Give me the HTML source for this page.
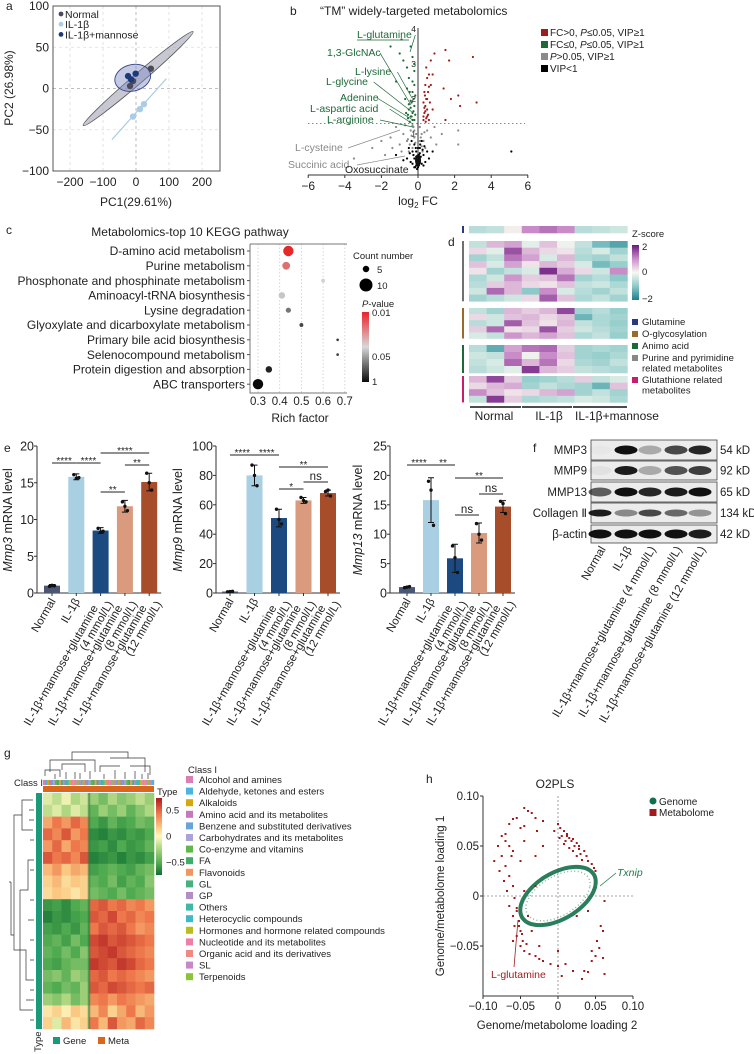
<!DOCTYPE html>
<html><head><meta charset="utf-8">
<style>
html,body{margin:0;padding:0;background:#fff;}
svg{display:block;}
text{font-family:"Liberation Sans","DejaVu Sans",sans-serif;fill:#222;}
</style></head>
<body>
<svg id="fig" width="754" height="1054" viewBox="0 0 754 1054" xmlns="http://www.w3.org/2000/svg">
<rect x="0" y="0" width="754" height="1054" fill="#fff"/>
<text x="6" y="10" font-size="12">a</text>
<text x="290" y="15" font-size="12">b</text>
<text x="6" y="234" font-size="12">c</text>
<text x="448" y="246" font-size="12">d</text>
<text x="4" y="452" font-size="12">e</text>
<text x="533" y="452" font-size="12">f</text>
<text x="4" y="757" font-size="12">g</text>
<text x="426" y="783" font-size="12">h</text>

<text x="136" y="206" font-size="12" text-anchor="middle">PC1(29.61%)</text>
<text transform="translate(13,88) rotate(-90)" font-size="12" text-anchor="middle">PC2 (26.98%)</text>

<text x="320" y="15" font-size="12">“TM” widely-targeted metabolomics</text>
<text x="418" y="205" font-size="12" text-anchor="middle">log<tspan font-size="8" dy="3">2</tspan><tspan dy="-3"> FC</tspan></text>

<text x="190" y="236" font-size="12" text-anchor="middle">Metabolomics-top 10 KEGG pathway</text>
<text x="300" y="422" font-size="12" text-anchor="middle">Rich factor</text>
<text x="353" y="259" font-size="9.5">Count number</text>
<text x="362" y="307" font-size="9.5"><tspan font-style="italic">P</tspan>-value</text>

<text x="632" y="237" font-size="9.5">Z-score</text>
<text x="494" y="420" font-size="12" text-anchor="middle">Normal</text>
<text x="549" y="420" font-size="12" text-anchor="middle">IL-1β</text>
<text x="575" y="420" font-size="12">IL-1β+mannose</text>

<text x="14" y="786" font-size="9.5">Class I</text>
<text x="157" y="795" font-size="9.5">Type</text>
<text x="188" y="773" font-size="9.5">Class I</text>
<text transform="translate(41,1052) rotate(-90)" font-size="9.5">Type</text>

<text x="555" y="788" font-size="12" text-anchor="middle">O2PLS</text>
<text x="557" y="1029" font-size="11.5" text-anchor="middle">Genome/metabolome loading 2</text>
<text transform="translate(444,896) rotate(-90)" font-size="11.5" text-anchor="middle">Genome/metabolome loading 1</text>
</svg>

<script>
const NS='http://www.w3.org/2000/svg';
const svg=document.getElementById('fig');
function mk(tag,attrs,parent){const e=document.createElementNS(NS,tag);for(const k in attrs)e.setAttribute(k,attrs[k]);(parent||svg).appendChild(e);return e;}
function txt(x,y,s,size,anchor,fill){const e=mk('text',{x:x,y:y,'font-size':size,'text-anchor':anchor||'start'});if(fill)e.setAttribute('style','fill:'+fill);e.textContent=s;return e;}

/* ================= PANEL A DATA ================= */
const pcaNormal=[[45,24],[-9,9],[-18,3]];
const pcaIL=[[24,-19],[12,-25],[-9,-34]];
const pcaMannose=[[-24,15],[-15,11],[-1,18]];
const pcaXTicks=[-200,-100,0,100,200];
const pcaYTicks=[-100,-50,0,50,100];
const pcaNormalEllipseEnds=[[-160,-45],[173,69]];
const pcaMannoseEllipse=[-10,13,55,16];
const pcaILLineEnds=[[-73,-62],[92,12]];

/* ================= PANEL B DATA ================= */
const volRedX=[0.3,0.35,0.4,0.45,0.5,0.3,0.55,0.4,0.5,0.6,0.45,0.7,0.9,1.5,1.7,3.0,2.2,1.8,3.2,2.3,1.4,0.8,0.6,1.5,0.35,0.5,0.3,0.45,0.7,0.65,0.55,0.4,0.8,0.35,0.5,0.42,0.38,0.6];
const volRedY=[1.4,1.6,1.8,2.0,1.5,1.9,2.2,2.4,2.6,2.7,2.9,3.1,3.3,3.4,3.1,3.2,2.1,2.0,1.9,1.8,2.3,1.7,1.4,1.4,2.2,1.7,1.5,1.45,2.4,1.9,1.55,1.65,2.7,1.75,2.0,1.35,2.1,2.35];
const volGreenX=[-0.2,-0.3,-0.4,-0.5,-0.35,-0.25,-0.45,-0.6,-0.3,-0.2,-0.5,-0.8,-1.0,-1.5,-0.9,-0.4,-0.3,-0.7,-0.2,-0.55,-0.15,-0.4,-0.65,-0.3,-0.2,-0.6,-1.2,-0.45,-0.25,-0.35,-0.5,-0.15,-0.3,-0.4,-0.2,-0.55];
const volGreenY=[1.4,1.6,1.5,1.7,1.9,2.0,2.2,2.3,2.5,2.8,2.6,3.1,3.3,3.5,3.7,3.5,3.2,2.0,1.8,1.45,1.55,1.75,1.6,2.2,3.0,2.9,2.5,1.35,1.65,1.5,1.85,2.1,1.4,1.95,2.4,1.55];
const volGrayX=[-0.2,-0.4,-0.6,-0.8,-1.0,-1.5,-2.0,-2.5,-1.2,0.2,0.3,0.5,0.7,1.0,1.3,2.2,2.2,-0.3,-0.5,0.1,0.4,-0.9,-1.8,-3.5,-0.15,0.25,-0.7,0.9,-1.4,-0.25,-0.1,0.15,-0.35,-0.45,0.35,-0.55,-0.2,0.2,-0.3,0.1];
const volGrayY=[0.9,1.1,0.8,1.0,0.7,0.9,0.8,0.6,1.2,1.0,0.8,1.1,0.9,0.7,1.0,1.1,0.7,0.6,0.5,1.2,0.6,0.5,0.4,0.3,0.75,0.5,1.25,1.2,0.6,1.2,1.0,0.9,0.95,0.7,1.05,0.85,1.1,0.65,1.25,0.8];
const volBlackX=[-0.1,0,0.1,-0.2,0.2,-0.3,0.3,0,-0.1,0.1,-0.4,0.4,-0.5,0.5,-0.2,0.2,-0.6,0.6,5.1,-1.2,-0.05,0.05,-0.15,0.15,0,-0.3,0.3,-0.8,0.8,-0.35,-0.05,0.05,-0.1,0.1,-0.25,0.25,0,-0.45,0.35,-0.2,0.12,-0.12];
const volBlackY=[0.1,0.05,0.2,0.3,0.15,0.5,0.4,0.3,0.5,0.6,0.2,0.2,0.6,0.5,0.7,0.8,0.3,0.3,0.5,0.4,0.2,0.4,0.05,0.35,0.6,0.15,0.1,0.25,0.5,0.8,0.0,0.1,0.35,0.45,0.4,0.55,0.15,0.45,0.65,0.05,0.7,0.6];
const volXTicks=[-6,-4,-2,0,2,4,6];
const volYTicks=[1,2,3,4];
const volThreshold=[1.3];

/* ================= PANEL C DATA ================= */
const keggPathways=['D-amino acid metabolism','Purine metabolism','Phosphonate and phosphinate metabolism','Aminoacyl-tRNA biosynthesis','Lysine degradation','Glyoxylate and dicarboxylate metabolism','Primary bile acid biosynthesis','Selenocompound metabolism','Protein digestion and absorption','ABC transporters'];
const keggRich=[0.44,0.43,0.60,0.41,0.44,0.50,0.667,0.667,0.35,0.30];
const keggCount=[8,6,3,5,4,3,2,2,5,8];
const keggP=[0.01,0.02,0.05,0.06,0.2,0.4,0.5,0.5,0.7,1.0];
const keggXTicks=[0.3,0.4,0.5,0.6,0.7];

/* ================= PANEL D DATA ================= */
const zTop=[[-0.6,-0.5,0.1,1.0,1.2,1.0,-0.6,-0.5,-0.4]];
const zBlock1=[[-0.5,0.6,0.8,-0.2,0.5,-0.1,-0.5,-1.2,-1.5],[0.3,-0.2,1.5,0.6,0.3,0.2,-0.6,-0.3,-0.8],[-0.8,-0.5,1.2,0.8,-0.3,0.6,-0.7,-0.8,-0.5],[0.5,-0.3,0.8,0.2,0.6,0.4,-0.3,-1.2,-0.9],[0.2,-0.8,-0.5,-0.3,1.8,0.7,0.3,-0.4,1.0],[-0.7,-0.4,0.9,0.4,0.5,1.2,-0.8,-0.6,-1.0],[-0.6,0.4,0.6,0.3,0.2,0.5,-0.5,-0.4,-0.7],[-0.4,1.3,0.6,-1.0,1.0,-0.3,-0.6,-0.8,-0.5],[-0.8,-0.6,-0.4,0.3,1.4,0.5,-0.7,-0.5,-0.8]];
const zBlock2=[[-0.5,-0.8,0.6,0.4,0.6,1.6,-0.8,-0.6,-0.9],[0.3,-0.4,0.5,0.6,0.3,0.5,-1.3,-0.7,-0.8],[-0.6,-0.4,1.4,0.5,0.2,0.6,-0.5,-0.7,-0.9],[0.4,1.3,0.2,0.3,1.5,0.4,-0.4,-0.6,-0.8],[-0.3,-0.5,0.9,0.6,0.8,0.5,-0.7,-0.5,-0.9]];
const zBlock3=[[-0.6,-1.4,0.8,1.2,1.3,0.4,-0.8,-0.7,-0.8],[-0.4,-0.5,1.0,-0.1,1.0,0.5,-0.8,-0.9,-0.7],[-0.5,-0.3,1.3,0.6,1.2,0.3,-0.7,-0.8,-0.5],[-0.6,-0.4,-0.2,1.7,0.6,0.4,-0.5,-0.6,-0.7]];
const zBlock4=[[0.6,1.6,0.4,-0.9,-0.8,-0.6,0.4,-0.5,-0.3],[0.3,0.6,0.7,-0.8,-0.5,-0.7,-0.8,-1.3,0.5],[1.0,0.5,0.2,0.3,0.6,0.8,-0.8,-0.5,-0.8],[-0.5,1.7,0.4,-0.7,-0.6,-0.5,-0.3,-0.4,-0.7]];
const zCategories=['Glutamine','O-glycosylation','Animo acid','Purine and pyrimidine|related metabolites','Glutathione related|metabolites'];

/* ================= PANEL E DATA ================= */
const eGroups=['Normal','IL-1β','IL-1β+mannose+glutamine|(4 mmol/L)','IL-1β+mannose+glutamine|(8 mmol/L)','IL-1β+mannose+glutamine|(12 mmol/L)'];
const mmp3Mean=[1.0,15.8,8.5,11.8,15.1];
const mmp3Err=[0.15,0.4,0.4,0.8,1.2];
const mmp3Reps=[[0.9,1.05,1.0],[16.1,15.6,15.7],[8.8,8.3,8.4],[12.4,11.8,11.2],[16.3,15.0,14.0]];
const mmp9Mean=[1.0,80,51,63,68];
const mmp9Err=[0.3,7,6,2,2];
const mmp9Reps=[[0.8,1.0,1.1],[87,80,73],[57,50,47],[65,63,62],[69,70,66]];
const mmp13Mean=[1.0,15.8,5.9,10.2,14.7];
const mmp13Err=[0.1,3.8,2.4,1.7,1.0];
const mmp13Reps=[[0.9,1.0,1.1],[19,17.5,11.5],[8.0,6.0,3.5],[11.8,10.0,9.0],[15.6,15.2,13.5]];
const mmp3Sig=[[0,1,'****',463],[1,2,'****',463],[2,4,'****',453],[3,4,'**',465],[2,3,'**',492]];
const mmp9Sig=[[0,1,'****',455],[1,2,'****',455],[2,4,'**',467],[3,4,'ns',482],[2,3,'*',489]];
const mmp13Sig=[[0,1,'****',465],[1,2,'**',465],[2,4,'**',478],[3,4,'ns',494],[2,3,'ns',515]];
const mmp3Ticks=[0,5,10,15,20];
const mmp9Ticks=[0,20,40,60,80,100];
const mmp13Ticks=[0,5,10,15,20,25];

/* ================= PANEL F DATA ================= */
const blotProteins=['MMP3','MMP9','MMP13','Collagen Ⅱ','β-actin'];
const blotSizes=['54 kD','92 kD','65 kD','134 kD','42 kD'];
const blotMMP3=[0.02,1.0,0.3,0.75,0.9];
const blotMMP9=[0.05,0.95,0.3,0.7,0.8];
const blotMMP13=[0.65,1.0,0.9,0.95,1.0];
const blotCollagen=[0.95,0.45,0.75,0.6,0.4];
const blotActin=[1,1,1,1,0.95];

/* ================= PANEL G DATA ================= */
const gMatrix=[
[-0.1,-0.2,-0.05,-0.25,-0.15,-0.3,-0.4,-0.25,-0.35,-0.3,-0.2,-0.3],
[-0.2,-0.1,-0.25,-0.1,-0.2,-0.45,-0.3,-0.4,-0.3,-0.45,-0.35,-0.25],
[0.35,0.5,0.4,0.55,0.45,-0.5,-0.6,-0.45,-0.55,-0.5,-0.4,-0.45],
[0.55,0.45,0.6,0.4,0.5,-0.65,-0.7,-0.6,-0.65,-0.55,-0.6,-0.5],
[0.4,0.55,0.35,0.5,0.45,-0.6,-0.55,-0.65,-0.5,-0.6,-0.55,-0.45],
[0.6,0.5,0.55,0.45,0.6,-0.7,-0.65,-0.6,-0.7,-0.6,-0.65,-0.55],
[0.3,0.4,0.25,0.35,0.3,-0.55,-0.5,-0.45,-0.5,-0.55,-0.45,-0.4],
[0.2,0.3,0.15,0.25,0.2,-0.45,-0.5,-0.4,-0.55,-0.45,-0.5,-0.35],
[0.15,0.25,0.2,0.1,0.2,-0.4,-0.45,-0.5,-0.4,-0.5,-0.45,-0.4],
[-0.6,-0.55,-0.65,-0.5,-0.45,0.55,0.6,0.5,0.55,0.45,0.5,0.4],
[-0.7,-0.6,-0.65,-0.55,-0.5,0.6,0.55,0.65,0.5,0.55,0.45,0.5],
[-0.55,-0.6,-0.5,-0.6,-0.45,0.5,0.6,0.55,0.6,0.5,0.4,0.45],
[-0.5,-0.45,-0.55,-0.4,-0.5,0.65,0.7,0.6,0.65,0.6,0.55,0.5],
[-0.45,-0.5,-0.4,-0.5,-0.35,0.6,0.65,0.7,0.6,0.55,0.5,0.45],
[-0.5,-0.55,-0.45,-0.4,-0.4,0.7,0.65,0.6,0.7,0.65,0.55,0.5],
[-0.4,-0.35,-0.45,-0.3,-0.35,0.55,0.6,0.5,0.55,0.5,0.45,0.4],
[-0.45,-0.5,-0.4,-0.45,-0.3,0.6,0.55,0.65,0.6,0.55,0.5,0.55],
[-0.3,-0.35,-0.25,-0.4,-0.3,0.45,0.5,0.4,0.5,0.45,0.4,0.35],
[0.1,0.2,0.05,0.25,0.15,0.3,0.45,0.2,0.35,0.5,0.3,0.4],
[0.2,-0.1,0.3,0.1,0.2,0.5,0.3,0.6,0.4,0.35,0.55,0.45]];
const gClasses=['Alcohol and amines','Aldehyde, ketones and esters','Alkaloids','Amino acid and its metabolites','Benzene and substituted derivatives','Carbohydrates and its metabolites','Co-enzyme and vitamins','FA','Flavonoids','GL','GP','Others','Heterocyclic compounds','Hormones and hormone related compounds','Nucleotide and its metabolites','Organic acid and its derivatives','SL','Terpenoids'];
const gClassColors=['#d97fb4','#4db3e0','#d4a90c','#c678b8','#6aa3d8','#a9a3d9','#5fb84a','#3fae6a','#f2955e','#46b07e','#b48cc8','#40b8a8','#40b8c8','#b6bf1c','#ee7ea8','#f08a80','#c888c8','#8ac43a'];
const gTicks=[-0.5,0,0.5];

/* ================= PANEL H DATA ================= */
const metaX=[-0.045,-0.04,-0.035,-0.03,-0.055,-0.06,-0.065,-0.05,-0.045,-0.075,-0.07,-0.08,-0.065,-0.06,-0.075,-0.085,-0.07,-0.078,-0.065,-0.072,-0.06,-0.068,-0.058,-0.065,-0.055,-0.06,-0.052,-0.058,-0.05,-0.055,-0.047,-0.05,-0.042,-0.045,-0.038,-0.03,-0.025,-0.02,-0.01,0.0,0.01,0.005,0.02,0.032,0.035,0.04,0.045,0.045,0.05,0.055,0.06,0.062,0.052,0.057,0.06,0.0,0.003,0.008,0.012,0.005,0.015,0.018,0.01,0.022,0.025,0.028,0.03,0.035,0.038,0.04,0.045,0.048,0.05,0.02,0.015,0.002,-0.005,0.025,0.032,-0.03,-0.045,-0.02,-0.03,-0.045,-0.04,-0.035,0.025,0.04,0.062,-0.02,-0.028,-0.05,-0.06,-0.025,0.0,-0.055,-0.052,-0.048,0.012,0.02,0.008,0.028,-0.062,-0.07];
const metaY=[0.088,0.085,0.083,0.078,0.078,0.077,0.072,0.068,0.07,0.06,0.055,0.05,0.05,0.045,0.04,0.035,0.03,0.025,0.02,0.015,0.01,0.005,-0.002,-0.01,-0.012,-0.02,-0.025,-0.03,-0.035,-0.04,-0.045,-0.05,-0.048,-0.055,-0.058,-0.06,-0.063,-0.065,-0.068,-0.07,-0.068,-0.08,-0.075,-0.083,-0.075,-0.076,-0.065,-0.055,-0.06,-0.052,-0.062,-0.078,-0.045,-0.03,-0.035,0.072,0.068,0.065,0.062,0.06,0.058,0.055,0.055,0.05,0.053,0.047,0.042,0.045,0.04,0.035,0.032,0.028,0.025,0.045,0.048,0.058,0.065,0.04,0.036,0.04,0.055,0.05,0.01,0.005,-0.02,-0.035,-0.02,-0.015,-0.005,0.075,0.065,0.035,-0.045,-0.05,-0.055,-0.015,-0.03,-0.038,0.06,0.057,0.052,0.05,0.04,0.062];
const genomeU=[0.05,0.011];
const genomeV=[0.006,0.027];
const o2Ticks=[-0.10,-0.05,0,0.05,0.10];
const o2TickLabels=['−0.10','−0.05','0','0.05','0.10'];

function minus(v){return String(v).replace('-','−');}

/* ---- Panel A ---- */
(function(){
const ax=v=>136+v*0.33, ay=v=>88.5-v*0.825;
const g=mk('g',{});


pcaXTicks.forEach(t=>{
 const l=mk('line',{x1:ax(t),x2:ax(t),y1:6,y2:171,stroke:t===0?'#aaa':'#ddd','stroke-dasharray':'3,3','stroke-width':0.8},g);
 
 
 const tl=txt(ax(t),186,minus(t),12,'middle');g.appendChild(tl);
 
 
});
pcaYTicks.forEach(t=>{
 const l=mk('line',{x1:53,x2:220,y1:ay(t),y2:ay(t),stroke:t===0?'#aaa':'#ddd','stroke-dasharray':'3,3','stroke-width':0.8},g);
 
 
 const tl=txt(49,ay(t)+4,minus(t),12,'end');g.appendChild(tl);
 
 
});
const box=mk('rect',{x:53,y:6,width:167,height:165,fill:'none',stroke:'#555','stroke-width':1},g);


const [p1,p2]=pcaNormalEllipseEnds;
const x1=ax(p1[0]),y1=ay(p1[1]),x2=ax(p2[0]),y2=ay(p2[1]);
const cx=(x1+x2)/2,cy=(y1+y2)/2,len=Math.hypot(x2-x1,y2-y1)/2,ang=Math.atan2(y2-y1,x2-x1)*180/Math.PI;
const e1=mk('ellipse',{cx:cx,cy:cy,rx:len,ry:5,transform:`rotate(${ang} ${cx} ${cy})`,fill:'#9a9aae','fill-opacity':0.55,stroke:'#555','stroke-width':0.8},g);


const [mcx,mcy,mrx,mry]=pcaMannoseEllipse;
const e2=mk('ellipse',{cx:ax(mcx),cy:ay(mcy),rx:mrx*0.33,ry:mry*0.825,transform:`rotate(-15 ${ax(mcx)} ${ay(mcy)})`,fill:'#7f88c0','fill-opacity':0.45,stroke:'#33448a','stroke-width':0.9},g);


const [q1,q2]=pcaILLineEnds;
const l3=mk('line',{x1:ax(q1[0]),y1:ay(q1[1]),x2:ax(q2[0]),y2:ay(q2[1]),stroke:'#a6cbe3','stroke-width':1.2},g);


pcaNormal.forEach(p=>{const c=mk('circle',{cx:ax(p[0]),cy:ay(p[1]),r:3.2,fill:'#4a4a58'},g);
 
 });
pcaIL.forEach(p=>{const c=mk('circle',{cx:ax(p[0]),cy:ay(p[1]),r:3.2,fill:'#a9cde6'},g);
 
 });
pcaMannose.forEach(p=>{const c=mk('circle',{cx:ax(p[0]),cy:ay(p[1]),r:3.2,fill:'#1c3a7a'},g);
 
 });
const leg=[['Normal','#4a4a58'],['IL-1β','#a9cde6'],['IL-1β+mannose','#1c3a7a']];
leg.forEach((L,i)=>{
 const c=mk('circle',{cx:61,cy:14+i*10.2,r:2.4,fill:L[1]},g);
 
 
 const t=txt(65,18+i*10.2,L[0],10.5);g.appendChild(t);
 
 
});
})();

/* ---- Panel B ---- */
(function(){
const vx=v=>418+v*18.3, vy=v=>169-v*35;
const g=mk('g',{});


const th=mk('line',{x1:308,x2:525,y1:vy(volThreshold[0]),y2:vy(volThreshold[0]),stroke:'#888','stroke-dasharray':'1.5,2.5','stroke-width':1},g);


const xa=mk('line',{x1:308,x2:528,y1:175,y2:175,stroke:'#333','stroke-width':1},g);


const ya=mk('line',{x1:418,x2:418,y1:28,y2:175,stroke:'#333','stroke-width':1},g);


volXTicks.forEach(t=>{
 const l=mk('line',{x1:vx(t),x2:vx(t),y1:175,y2:178,stroke:'#333'},g);
 
 
 const tl=txt(vx(t),190,minus(t),12,'middle');g.appendChild(tl);
 
 
});
volYTicks.forEach(t=>{
 const tl=txt(416,vy(t)+3,String(t),8.5,'end');g.appendChild(tl);
 
 
});
function pts(X,Y,col,name){X.forEach((x,i)=>{const c=mk('circle',{cx:vx(x),cy:vy(Y[i]),r:1.1,fill:col},g);
 
 });}
pts(volGrayX,volGrayY,'#8a8a8a','volcano-point-ns');
pts(volBlackX,volBlackY,'#000','volcano-point-low-vip');
pts(volGreenX,volGreenY,'#1d6a38','volcano-point-down');
pts(volRedX,volRedY,'#a01c1c','volcano-point-up');
const core=mk('ellipse',{cx:vx(0),cy:vy(0.25),rx:3,ry:6,fill:'#111'},g);


const labels=[['L-glutamine',357,38,'#1d6a38',410,52],['1,3-GlcNAc',327,56,'#1d6a38',411,105],['L-lysine',355,75,'#1d6a38',412,98],['L-glycine',326,85,'#1d6a38',412,112],['Adenine',340,101,'#1d6a38',413,120],['L-aspartic acid',310,112,'#1d6a38',413,124],['L-arginine',327,123,'#1d6a38',413,127],['L-cysteine',295,151,'#888',400,130],['Succinic acid',288,168,'#888',405,156],['Oxosuccinate',345,173,'#222',0,0]];
labels.forEach(L=>{
 const t=txt(L[1],L[2],L[0],10.5,'start',L[3]);g.appendChild(t);
 
 
 if(L[4]){const w=L[0].length*5.3;
  const ln=mk('line',{x1:L[1]+w,y1:L[2]-3,x2:L[4],y2:L[5],stroke:L[3],'stroke-width':0.7},g);
  
  }
});
const ul=mk('line',{x1:357,x2:409,y1:40,y2:40,stroke:'#1d6a38','stroke-width':0.8},g);


const leg=[['#a01c1c','FC>0, ','P','≤0.05, VIP≥1'],['#1d6a38','FC≤0, ','P','≤0.05, VIP≥1'],['#8a8a8a','','P','>0.05, VIP≥1'],['#000','VIP<1','','']];
leg.forEach((L,i)=>{
 const r=mk('rect',{x:541,y:29+i*12,width:7,height:7,fill:L[0]},g);
 
 
 const t=mk('text',{x:550,y:36+i*12,'font-size':10},g);
 
 
 t.appendChild(document.createTextNode(L[1]));
 if(L[2]){const ts=mk('tspan',{'font-style':'italic'},t);ts.textContent=L[2];}
 t.appendChild(document.createTextNode(L[3]));
});
})();

/* ---- Panel C ---- */
(function(){
const cx=v=>258+(v-0.3)*217, cy=i=>251+i*14.8;
const g=mk('g',{});


keggXTicks.forEach(t=>{
 const l=mk('line',{x1:cx(t),x2:cx(t),y1:244,y2:393,stroke:'#ccc','stroke-dasharray':'1.5,2','stroke-width':0.8},g);
 
 
 const tl=txt(cx(t),405,String(t),11.5,'middle');g.appendChild(tl);
 
 
});
const fr=mk('path',{d:'M250,244 H347 M250,244 V393 H347',fill:'none',stroke:'#777','stroke-width':1},g);


function pcol(p){
 const lp=Math.log10(p);
 if(lp>=Math.log10(0.05)){const f=lp/Math.log10(0.05);const v=Math.round(10+f*200);return `rgb(${v},${v},${v})`;}
 const f=(lp-Math.log10(0.05))/(Math.log10(0.01)-Math.log10(0.05));
 return `rgb(${Math.round(210+f*20)},${Math.round(210-f*170)},${Math.round(210-f*170)})`;
}
keggPathways.forEach((p,i)=>{
 const tk=mk('line',{x1:247,x2:250,y1:cy(i),y2:cy(i),stroke:'#555'},g);
 
 
 const t=txt(245,cy(i)+4.2,p,12,'end');g.appendChild(t);
 
 
 const c=mk('circle',{cx:cx(keggRich[i]),cy:cy(i),r:0.65*keggCount[i],fill:pcol(keggP[i])},g);
 
 
});
[[5,269],[10,285]].forEach(L=>{
 const c=mk('circle',{cx:366,cy:L[1],r:0.65*L[0],fill:'#000'},g);
 
 
 const t=txt(377,L[1]+4,String(L[0]),9.5);g.appendChild(t);
 
 
});
const defs=mk('defs',{});
const lg=mk('linearGradient',{id:'pgrad',x1:0,y1:0,x2:0,y2:1},defs);
[['0','#e8232a'],['0.5','#d8d8d8'],['1','#0a0a0a']].forEach(s=>mk('stop',{offset:s[0],'stop-color':s[1]},lg));
const bar=mk('rect',{x:362,y:312,width:7,height:70,fill:'url(#pgrad)'},g);


[['0.01',316],['0.05',360],['1',385]].forEach(L=>{
 const t=txt(372,L[1],L[0],9.5);g.appendChild(t);
 
 
});
})();

/* ---- Panel D ---- */
(function(){
const g=mk('g',{});


function zc(v){
 const stops=[[-2,[31,127,143]],[-1,[140,202,201]],[0,[248,248,240]],[1,[201,140,200]],[2,[106,26,126]]];
 v=Math.max(-2,Math.min(2,v));
 for(let i=0;i<4;i++){const a=stops[i],b=stops[i+1];if(v<=b[0]){const f=(v-a[0])/(b[0]-a[0]);return 'rgb('+a[1].map((c,k)=>Math.round(c+f*(b[1][k]-c))).join(',')+')';}}
}
const blocks=[[zTop,226,'#2b3a7a',7],[zBlock1,241,'#707070',6.7],[zBlock2,308,'#9a6a2a',6.1],[zBlock3,345,'#1a6a3a',7],[zBlock4,376,'#c81e6e',6.6]];
const x0=469,cw=17.6;
blocks.forEach(B=>{
 const rh=B[3];
 B[0].forEach((row,r)=>row.forEach((v,c)=>{
  const cell=mk('rect',{x:x0+c*cw,y:B[1]+r*rh,width:cw+0.3,height:rh+0.3,fill:zc(v)},g);
  
  
 }));
 const sb=mk('rect',{x:462,y:B[1],width:2,height:B[0].length*rh,fill:B[2]},g);
 
 
});
[[470,521],[522,572],[573,627]].forEach(p=>{
 const l=mk('line',{x1:p[0],x2:p[1],y1:407,y2:407,stroke:'#111','stroke-width':1.5},g);
 
 
});
const defs=mk('defs',{});
const lg=mk('linearGradient',{id:'zgrad',x1:0,y1:0,x2:0,y2:1},defs);
[['0','#6a1a7e'],['0.25','#c98cc8'],['0.5','#f8f8f0'],['0.75','#8ccac9'],['1','#1f7f8f']].forEach(s=>mk('stop',{offset:s[0],'stop-color':s[1]},lg));
const bar=mk('rect',{x:632,y:245,width:7,height:55,fill:'url(#zgrad)'},g);


[['2',250],['0',275],['−2',302]].forEach(L=>{
 const t=txt(642,L[1],L[0],9.5);g.appendChild(t);
 
 
});
const cols=['#2b3a7a','#9a6a2a','#1a6a3a','#888','#c81e6e'];
let yy=319;
zCategories.forEach((c,i)=>{
 const r=mk('rect',{x:632,y:yy,width:6,height:6,fill:cols[i]},g);
 
 
 const parts=c.split('|');
 parts.forEach((p,k)=>{const t=txt(642,yy+6+k*10.5,p,9.5);g.appendChild(t);
  
  });
 yy+= parts.length>1? 22:12;
});
})();

/* ---- Panel E ---- */
const barColors=['#4b5574','#a9cfe3','#1c4a80','#d99a7e','#a84d2a'];
function drawBars(name,axisX,bx0,bstep,ymax,means,errs,reps,sigs,ticks,ytitle){
 const g=mk('g',{});
 
 
 const Y=v=>593-v/ymax*147, X=i=>bx0+i*bstep;
 const ya=mk('line',{x1:axisX,x2:axisX,y1:446,y2:593,stroke:'#333'},g);
 
 
 const xa=mk('line',{x1:axisX,x2:X(4)+12,y1:593,y2:593,stroke:'#333'},g);
 
 
 ticks.forEach(t=>{
  const l=mk('line',{x1:axisX-3,x2:axisX,y1:Y(t),y2:Y(t),stroke:'#333'},g);
  
  
  const tl=txt(axisX-3,Y(t)+4.5,String(t),12.5,'end');g.appendChild(tl);
  
  
 });
 means.forEach((m,i)=>{
  const b=mk('rect',{x:X(i)-8,y:Y(m),width:16,height:593-Y(m),fill:barColors[i]},g);
  
  
  const e=mk('path',{d:`M${X(i)},${Y(m-errs[i])} V${Y(m+errs[i])} M${X(i)-3},${Y(m+errs[i])} h6 M${X(i)-3},${Y(m-errs[i])} h6`,stroke:'#111','stroke-width':1,fill:'none'},g);
  
  
  reps[i].forEach((r,k)=>{const d=mk('circle',{cx:X(i)+(k-1)*2.5,cy:Y(r),r:1.7,fill:'#111'},g);
   
   });
  const tk=mk('line',{x1:X(i),x2:X(i),y1:593,y2:596,stroke:'#333'},g);
  
  
  const parts=eGroups[i].split('|');
  const t=mk('text',{transform:`translate(${X(i)+4},${601}) rotate(-60)`,'font-size':11.5,'text-anchor':'end'},g);
  
  
  if(parts.length===1){t.textContent=parts[0];}
  else{const a=mk('tspan',{x:-9,dy:-2},t);a.textContent=parts[0];const b2=mk('tspan',{x:2,dy:11},t);b2.textContent=parts[1];}
 });
 sigs.forEach(s=>{
  const l=mk('line',{x1:X(s[0]),x2:X(s[1]),y1:s[3],y2:s[3],stroke:'#222','stroke-width':0.9},g);
  
  
  const t=txt((X(s[0])+X(s[1]))/2,s[3]-(s[2].startsWith('*')?-1:2),s[2],s[2].startsWith('*')?10:11.5,'middle');g.appendChild(t);
  
  
 });
 const yt=mk('text',{transform:`translate(${ytitle[0]},520) rotate(-90)`,'font-size':12.5,'text-anchor':'middle'},g);
 
 
 const it=mk('tspan',{'font-style':'italic'},yt);it.textContent=ytitle[1];
 yt.appendChild(document.createTextNode(' mRNA level'));
}
drawBars('mmp3-bar-chart',37,52,24.3,20,mmp3Mean,mmp3Err,mmp3Reps,mmp3Sig,mmp3Ticks,[12,'Mmp3']);
drawBars('mmp9-bar-chart',216,230,24.5,100,mmp9Mean,mmp9Err,mmp9Reps,mmp9Sig,mmp9Ticks,[182,'Mmp9']);
drawBars('mmp13-bar-chart',390,407,24,25,mmp13Mean,mmp13Err,mmp13Reps,mmp13Sig,mmp13Ticks,[362,'Mmp13']);

/* ---- Panel F ---- */
(function(){
const g=mk('g',{});


const rows=[[blotMMP3,440,20],[blotMMP9,461,19],[blotMMP13,482,20],[blotCollagen,503,20],[blotActin,525,18]];
const lanes=[600,626,650,676,700];
rows.forEach((R,ri)=>{
 const bg=mk('rect',{x:591,y:R[1],width:126,height:R[2],fill:'#ececec',stroke:'#444','stroke-width':0.8},g);
 
 
 R[0].forEach((v,i)=>{
  const b=mk('ellipse',{cx:lanes[i],cy:R[1]+R[2]/2,rx:11.5,ry:ri===3?3.5:4.5,fill:'#111','fill-opacity':v},g);
  
  
 });
 const t=txt(587,R[1]+R[2]/2+4,blotProteins[ri],11.5,'end');g.appendChild(t);
 
 
 const s=txt(720,R[1]+R[2]/2+4,blotSizes[ri],11.5);g.appendChild(s);
 
 
});
eGroups.forEach((gname,i)=>{
 const t=mk('text',{transform:`translate(${lanes[i]+6},549) rotate(-60)`,'font-size':11.5,'text-anchor':'end'},g);
 t.textContent=gname.replace('|',' ');
 
 
});
})();

/* ---- Panel G ---- */
(function(){
const g=mk('g',{});


function gc(v){
 const stops=[[-0.8,[16,110,50]],[-0.5,[80,170,80]],[-0.25,[175,215,130]],[0,[252,248,190]],[0.25,[250,200,130]],[0.5,[238,120,75]],[0.8,[175,25,30]]];
 v=Math.max(-0.8,Math.min(0.8,v));
 for(let i=0;i<6;i++){const a=stops[i],b=stops[i+1];if(v<=b[0]){const f=(v-a[0])/(b[0]-a[0]);return 'rgb('+a[1].map((c,k)=>Math.round(c+f*(b[1][k]-c))).join(',')+')';}}
}
const x0=43,y0=793,W=111,H=236,nr=gMatrix.length,nc=gMatrix[0].length;
gMatrix.forEach((row,r)=>row.forEach((v,c)=>{
 const cell=mk('rect',{x:x0+c*W/nc,y:y0+r*H/nr,width:W/nc+0.3,height:H/nr+0.3,fill:gc(v)},g);
 
 
}));
const sep=mk('rect',{x:x0+5*W/nc-1.5,y:y0,width:2.5,height:H,fill:'#2d7a3a','fill-opacity':0.6},g);


for(let i=0;i<56;i++){
 const r=mk('rect',{x:x0+i*W/56,y:780,width:W/56+0.2,height:5,fill:gClassColors[i%gClassColors.length]},g);
 
 
}
const tb=mk('rect',{x:x0,y:786,width:W,height:6,fill:'#d9651e'},g);


const lb=mk('rect',{x:36,y:y0,width:6,height:H,fill:'#1a9a78'},g);


const dt=mk('path',{d:'M50,772 V760 H95 V772 M72,760 V752 H128 V758 M110,758 H145 V772 M100,772 V766 H120 M130,766 H150 V775 M45,776 V770 H60 V777 M62,770 V764 H85 V772 M75,779 V772 M80,779 V773 M90,779 V771 M104,779 V774 M115,779 V770 M125,779 V772 M135,779 V771 M142,779 V774 M148,779 V773 M55,779 V774 M66,779 V772',fill:'none',stroke:'#333','stroke-width':0.7},g);


const dl=mk('path',{d:'M33,800 H22 V830 H33 M22,815 H14 V950 H20 M20,890 V1010 H33 M20,890 H28 V860 H34 M28,920 H34 M20,950 H26 V980 H34 M26,1000 H34 M11,882 V935 H14 M11,882 H9 M30,840 H34 M30,870 H34 M30,900 H34 M30,940 H34 M30,960 H34 M30,990 H34 M30,1020 H34 M29,810 H34 M29,820 H34',fill:'none',stroke:'#333','stroke-width':0.7},g);


const defs=mk('defs',{});
const lg=mk('linearGradient',{id:'ggrad',x1:0,y1:0,x2:0,y2:1},defs);
[['0','#af191e'],['0.2','#ee784b'],['0.4','#fbd08a'],['0.5','#fcf8be'],['0.65','#afd782'],['0.85','#50aa50'],['1','#106e32']].forEach(s=>mk('stop',{offset:s[0],'stop-color':s[1]},lg));
const bar=mk('rect',{x:156,y:798,width:6,height:77,fill:'url(#ggrad)'},g);


gTicks.forEach(t=>{
 const tl=txt(166,836.5-t*52+3,minus(t),9.5);g.appendChild(tl);
 
 
});
gClasses.forEach((c,i)=>{
 const y=782+i*11.6;
 const r=mk('rect',{x:186,y:y-6,width:7,height:7,fill:gClassColors[i]},g);
 
 
 const t=txt(199,y+1,c,9.5);g.appendChild(t);
 
 
});
[['Gene','#1a9a78',53],['Meta','#d9651e',98]].forEach(L=>{
 const r=mk('rect',{x:L[2],y:1037,width:7,height:7,fill:L[1]},g);
 
 
 const t=txt(L[2]+10,1044,L[0],9.5);g.appendChild(t);
 
 
});
})();

/* ---- Panel H ---- */
(function(){
const hx=v=>558+v*750, hy=v=>896-v*1000;
const g=mk('g',{});


const ax=mk('path',{d:`M${hx(-0.1)},${hy(0.1)} V${hy(-0.1)} H${hx(0.1)}`,fill:'none',stroke:'#333'},g);


const z=mk('path',{d:`M${hx(0)},${hy(0.1)} V${hy(-0.1)} M${hx(-0.1)},${hy(0)} H${hx(0.1)}`,fill:'none',stroke:'#888','stroke-dasharray':'2,2','stroke-width':0.8},g);


o2Ticks.forEach((t,i)=>{
 const a=mk('line',{x1:hx(t),x2:hx(t),y1:hy(-0.1),y2:hy(-0.1)+3,stroke:'#333'},g);
 
 
 const tl=txt(hx(t),1010,o2TickLabels[i],11.5,'middle');g.appendChild(tl);
 
 
 if(t>-0.1){
 const b=mk('line',{x1:hx(-0.1)-3,x2:hx(-0.1),y1:hy(t),y2:hy(t),stroke:'#333'},g);
 
 
 const yl=txt(hx(-0.1)-4,hy(t)+4,o2TickLabels[i],11.5,'end');g.appendChild(yl);
 
 }
});
let d='';
for(let k=0;k<=72;k++){const t=k/72*2*Math.PI;const x=genomeU[0]*Math.cos(t)+genomeV[0]*Math.sin(t),y=genomeU[1]*Math.cos(t)+genomeV[1]*Math.sin(t);d+=(k?'L':'M')+hx(x).toFixed(1)+','+hy(y).toFixed(1);}
const ring=mk('path',{d:d,fill:'none',stroke:'#13704a','stroke-width':4,'stroke-opacity':0.9},g);


let d2='';
for(let k=0;k<=72;k++){const t=k/72*2*Math.PI;const x=0.85*(genomeU[0]*Math.cos(t)+genomeV[0]*Math.sin(t)),y=0.85*(genomeU[1]*Math.cos(t)+genomeV[1]*Math.sin(t));d2+=(k?'L':'M')+hx(x).toFixed(1)+','+hy(y).toFixed(1);}
const ring2=mk('path',{d:d2,fill:'none',stroke:'#2a8a5a','stroke-width':1.5,'stroke-opacity':0.6,'stroke-dasharray':'1,2.5'},g);


metaX.forEach((x,i)=>{
 const p=mk('rect',{x:hx(x)-1,y:hy(metaY[i])-1,width:2,height:2,fill:'#a01c1c'},g);
 
 
});
const tx=txt(617,876,'Txnip',10.5,'start','#1d7a4a');tx.setAttribute('font-style','italic');g.appendChild(tx);


const tl1=mk('line',{x1:600,y1:886,x2:616,y2:873,stroke:'#1d7a4a','stroke-width':0.8},g);


const lq=txt(491,978,'L-glutamine',10.5,'start','#a01c1c');g.appendChild(lq);


const tl2=mk('line',{x1:514,y1:967,x2:518,y2:920,stroke:'#a01c1c','stroke-width':0.8},g);


const c=mk('circle',{cx:653,cy:801,r:3.5,fill:'#13704a'},g);


const t1=txt(659,805,'Genome',10);g.appendChild(t1);


const r=mk('rect',{x:649.5,y:809,width:7,height:7,fill:'#a01c1c'},g);


const t2=txt(659,816,'Metabolome',10);g.appendChild(t2);


})();
</script>
</body></html>
